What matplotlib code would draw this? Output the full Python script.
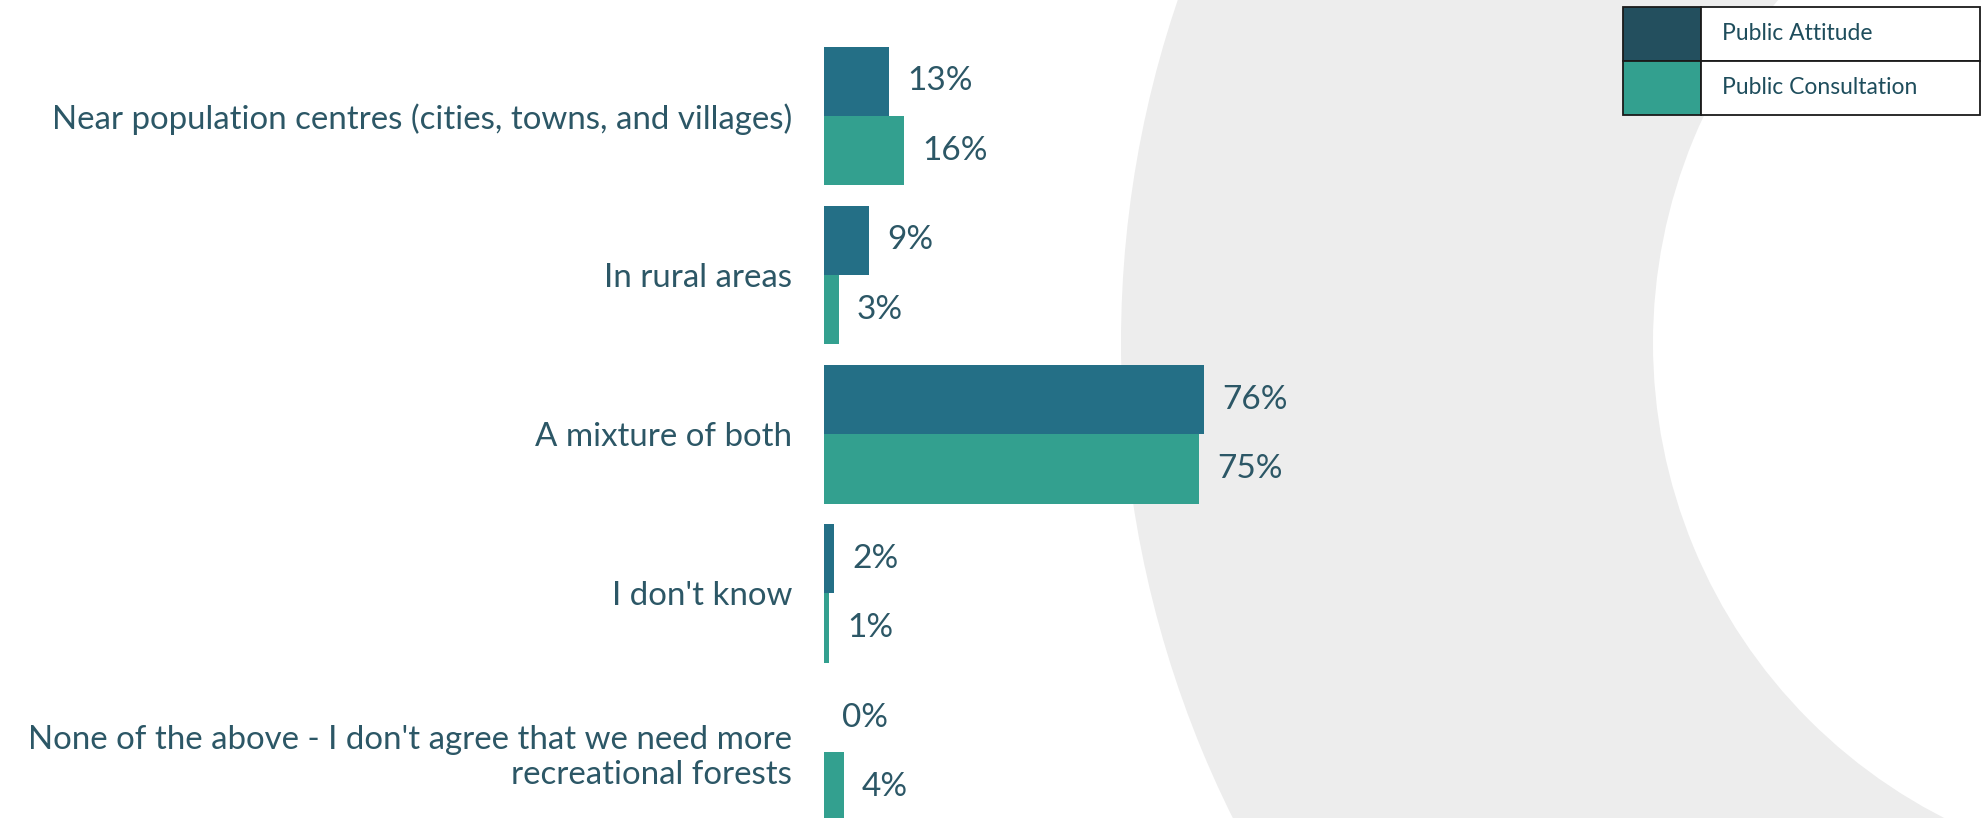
import matplotlib
matplotlib.use("Agg")
import matplotlib.pyplot as plt
from matplotlib.patches import Wedge, Rectangle
import numpy as np

categories = [
    "Near population centres (cities, towns, and villages)",
    "In rural areas",
    "A mixture of both",
    "I don't know",
    "None of the above - I don't agree that we need more\nrecreational forests",
]
attitude = [13, 9, 76, 2, 0]
consultation = [16, 3, 75, 1, 4]
series_names = ["Public Attitude", "Public Consultation"]

bar_dark = "#246F86"
bar_green = "#33A08F"
legend_dark = "#234F5E"
text_col = "#2C5766"

W, H = 1982, 818
fig = plt.figure(figsize=(W / 100, H / 100), dpi=100)

# background ring, in pixel coords
bg = fig.add_axes([0, 0, 1, 1])
bg.set_xlim(0, W)
bg.set_ylim(H, 0)
bg.axis("off")
bg.add_patch(Wedge((2186, 343), 1065, 0, 360, width=532, color="#EDEDED", lw=0))

# bars
x0 = 824
ax = fig.add_axes([x0 / W, 0, (W - x0) / W, 1])
ax.patch.set_alpha(0)
ax.set_xlim(0, (W - x0) / 5)
ax.set_ylim(4.412, -0.729)

y = np.arange(len(categories))
h = 0.436
ax.barh(y - h / 2, attitude, height=h, color=bar_dark, lw=0)
ax.barh(y + h / 2, consultation, height=h, color=bar_green, lw=0)

for i in range(len(categories)):
    ax.text(attitude[i] + 3.6, y[i] - h / 2, f"{attitude[i]}%", va="center", ha="left",
            fontsize=24, color=text_col, family="Lato")
    ax.text(consultation[i] + 3.6, y[i] + h / 2, f"{consultation[i]}%", va="center", ha="left",
            fontsize=24, color=text_col, family="Lato")

ax.set_yticks(y)
ax.set_yticklabels(categories, fontsize=23.8, color=text_col, family="Lato")
ax.tick_params(axis="y", length=0, pad=23)
ax.set_xticks([])
for s in ax.spines.values():
    s.set_visible(False)

# legend box drawn as a little table
lx, ldiv, lr = 1623, 1701, 1980
rows = [7, 61, 115]
leg_cols = [legend_dark, bar_green]
for k in range(2):
    t = rows[k]
    hh = rows[k + 1] - rows[k]
    bg.add_patch(Rectangle((lx, t), ldiv - lx, hh, facecolor=leg_cols[k], edgecolor="#1a1a1a", lw=1.3, zorder=5))
    bg.add_patch(Rectangle((ldiv, t), lr - ldiv, hh, facecolor="white", edgecolor="#1a1a1a", lw=1.3, zorder=5))
    bg.text(1722, t + hh / 2, series_names[k], va="center", ha="left", fontsize=16.5,
            color="#1E4D5C", family="Lato", zorder=6)

fig.savefig("out.png", dpi=100)
